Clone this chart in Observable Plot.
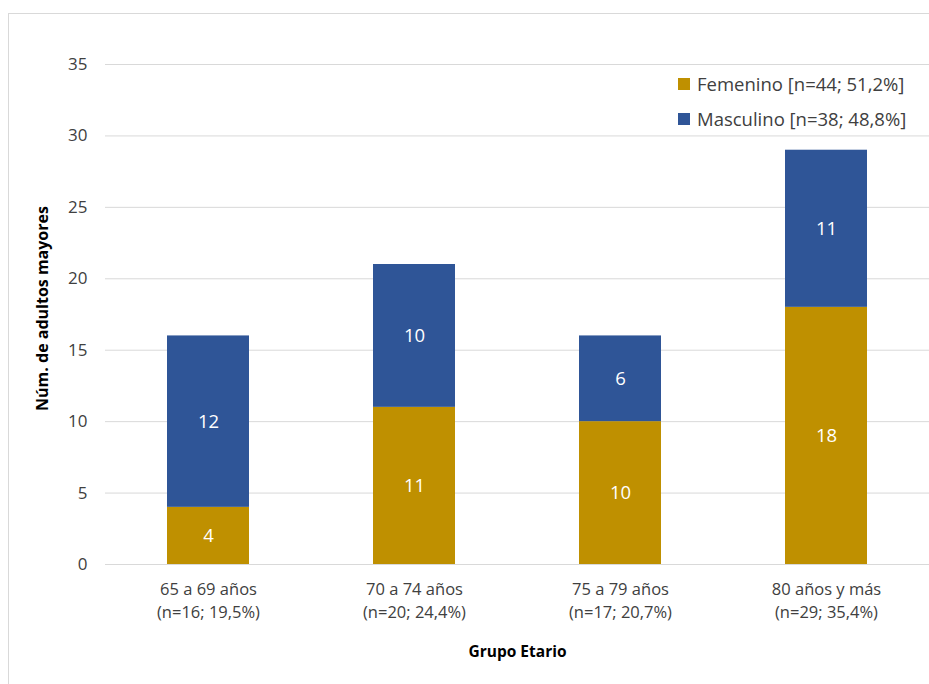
<!DOCTYPE html>
<html>
<head>
<meta charset="utf-8">
<script src="https://cdn.jsdelivr.net/npm/d3@7"></script>
<script src="https://cdn.jsdelivr.net/npm/@observablehq/plot@0.6"></script>
<style>
  html, body { margin: 0; padding: 0; background: #fff; overflow: hidden; }
  #wrap { position: relative; width: 929px; height: 684px; font-family: "Open Sans", Lato, sans-serif; }
  #frame { position: absolute; left: 8px; top: 13px; width: 940px; height: 700px; border: 1px solid #d9d9d9; box-sizing: border-box; }
  #chart { position: absolute; left: 0; top: 0; }
  #legend { position: absolute; left: 678px; top: 66px; font-size: 18.5px; color: #404040; }
  .item { display: flex; align-items: center; height: 35px; }
  .sw { width: 12px; height: 12px; margin-right: 7px; }
</style>
</head>
<body>
<div id="wrap">
  <div id="frame"></div>
  <div id="chart"></div>
  <div id="legend"></div>
</div>
<script>
const groups = ["65 a 69 años", "70 a 74 años", "75 a 79 años", "80 años y más"];
const groupN = ["(n=16; 19,5%)", "(n=20; 24,4%)", "(n=17; 20,7%)", "(n=29; 35,4%)"];
const series = ["Femenino", "Masculino"];
const seriesLabels = ["Femenino [n=44; 51,2%]", "Masculino [n=38; 48,8%]"];
const femenino = [4, 11, 10, 18];
const masculino = [12, 10, 6, 11];
const colors = ["#BF9000", "#2F5597"];
const yTicks = [0, 5, 10, 15, 20, 25, 30, 35];

const data = [];
groups.forEach((g, i) => {
  data.push({group: g, series: series[0], value: femenino[i]});
  data.push({group: g, series: series[1], value: masculino[i]});
});

const plot = Plot.plot({
  width: 929,
  height: 684,
  marginLeft: 105,
  marginRight: 0,
  marginTop: 64,
  marginBottom: 120,
  style: {fontFamily: '"Open Sans", Lato, sans-serif', background: "transparent"},
  x: {domain: groups, paddingInner: 0.6, paddingOuter: 0.3, label: null},
  y: {domain: [0, 35], label: null},
  color: {domain: series, range: colors},
  marks: [
    Plot.gridY(yTicks, {stroke: "#d9d9d9", strokeOpacity: 1, strokeWidth: 1}),
    Plot.axisY(yTicks, {tickSize: 0, tickPadding: 18, fontSize: 17, fill: "#404040", label: null}),
    Plot.axisX({
      tickSize: 0, tickPadding: 15, fontSize: 16.5, fill: "#404040", lineHeight: 1.35, label: null,
      tickFormat: (d) => d + "\n" + groupN[groups.indexOf(d)]
    }),
    Plot.barY(data, {x: "group", y: "value", fill: "series", order: series}),
    Plot.text(data, Plot.stackY({x: "group", y: "value", z: "series", order: series, text: "value", fill: "white", fontSize: 18.5})),
    Plot.text(["Grupo Etario"], {frameAnchor: "bottom", dy: 92, text: d => d, fontWeight: "bold", fontSize: 15.5, fill: "#000"}),
    Plot.text(["Núm. de adultos mayores"], {frameAnchor: "left", textAnchor: "middle", dx: -63, dy: -6, rotate: -90, text: d => d, fontWeight: "bold", fontSize: 16, fill: "#000"})
  ]
});
document.getElementById("chart").appendChild(plot);

const legend = document.getElementById("legend");
seriesLabels.forEach((lab, i) => {
  const it = document.createElement("div");
  it.className = "item";
  const sw = document.createElement("div");
  sw.className = "sw";
  sw.style.background = colors[i];
  const t = document.createElement("span");
  t.textContent = lab;
  it.appendChild(sw);
  it.appendChild(t);
  legend.appendChild(it);
});
</script>
</body>
</html>
